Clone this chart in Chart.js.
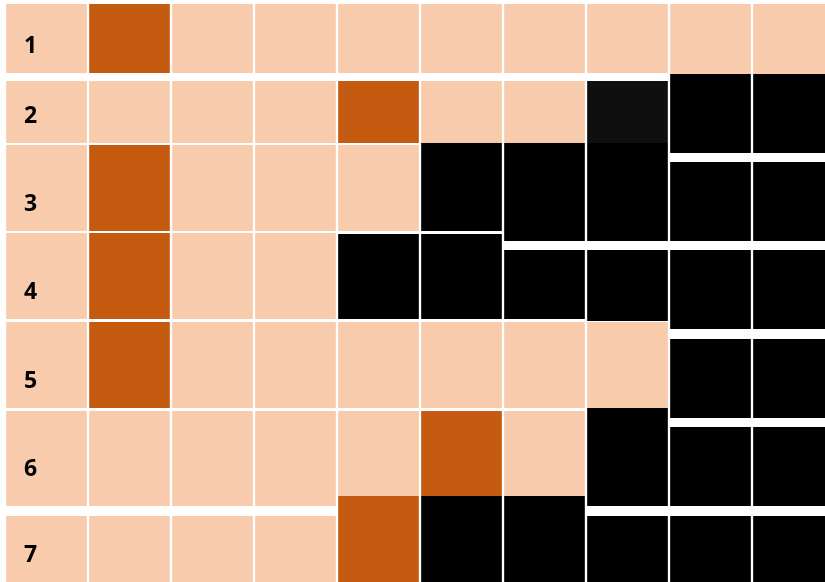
<!DOCTYPE html>
<html>
<head>
<meta charset="utf-8">
<script src="https://cdn.jsdelivr.net/npm/chart.js@4/dist/chart.umd.min.js"></script>
<style>
  html, body { margin: 0; padding: 0; background: #fff; overflow: hidden; }
  #wrap { width: 835px; height: 582px; }
</style>
</head>
<body>
<div id="wrap"><canvas id="grid"></canvas></div>
<script>
// columns: first one holds the row numbers
const columns = ['label', 'c1', 'c2', 'c3', 'c4', 'c5', 'c6', 'c7', 'c8', 'c9'];
const rowLabels = ['1', '2', '3', '4', '5', '6', '7'];

// 0 = light peach, 1 = dark orange, 2 = black, 3 = near black
const cellKinds = [
  [0, 1, 0, 0, 0, 0, 0, 0, 0, 0],
  [0, 0, 0, 0, 1, 0, 0, 3, 2, 2],
  [0, 1, 0, 0, 0, 2, 2, 2, 2, 2],
  [0, 1, 0, 0, 2, 2, 2, 2, 2, 2],
  [0, 1, 0, 0, 0, 0, 0, 0, 2, 2],
  [0, 0, 0, 0, 0, 1, 0, 2, 2, 2],
  [0, 0, 0, 0, 1, 2, 2, 2, 2, 2]
];
// vertical extent of each cell (y axis runs 0 at top to 582 at bottom)
const cellTop = [
  [4, 4, 4, 4, 4, 4, 4, 4, 4, 4],
  [81, 81, 81, 81, 81, 81, 81, 81, 74, 74],
  [145, 145, 145, 145, 145, 143, 143, 143, 162, 162],
  [233, 233, 233, 233, 234, 234, 250, 250, 250, 250],
  [322, 322, 322, 322, 322, 322, 322, 322, 339, 339],
  [411, 411, 411, 411, 411, 411, 411, 408, 427, 427],
  [516, 516, 516, 516, 496, 496, 496, 516, 516, 516]
];
const cellBottom = [
  [73, 73, 73, 73, 73, 73, 73, 73, 74, 74],
  [143, 143, 143, 143, 143, 143, 143, 143, 153, 153],
  [231, 231, 231, 231, 231, 231, 241, 241, 241, 241],
  [319, 319, 319, 319, 319, 319, 319, 321, 329, 329],
  [408, 408, 408, 408, 408, 408, 408, 408, 418, 418],
  [506, 506, 506, 506, 496, 496, 496, 506, 506, 506],
  [582, 582, 582, 582, 582, 582, 582, 582, 582, 582]
];

const palette = ['#F8CBAD', '#C55A11', '#000000', '#0F0F0F'];

const datasets = rowLabels.map((lbl, r) => ({
  label: lbl,
  data: columns.map((_, c) => [cellTop[r][c], cellBottom[r][c]]),
  backgroundColor: cellKinds[r].map(k => palette[k]),
  borderColor: '#ffffff',
  borderWidth: { left: 1.5, right: 1.5, top: 0, bottom: 0 },
  borderSkipped: false,
  grouped: false,
  barPercentage: 1,
  categoryPercentage: 1
}));

// row numbers drawn inside the first column, sitting above the row's lowest cell edge
const rowNumbers = {
  id: 'rowNumbers',
  afterDatasetsDraw(chart) {
    const { ctx, scales: { x, y } } = chart;
    const colW = x.width / columns.length;
    const left = x.getPixelForValue(0) - colW / 2;
    ctx.save();
    ctx.font = 'bold 23px "Open Sans", Lato, sans-serif';
    ctx.fillStyle = '#000';
    ctx.textAlign = 'left';
    ctx.textBaseline = 'alphabetic';
    rowLabels.forEach((lbl, r) => {
      const base = Math.min(...cellBottom[r]);
      ctx.fillText(lbl, left + 19, y.getPixelForValue(base) - 20);
    });
    ctx.restore();
  }
};

new Chart(document.getElementById('grid').getContext('2d'), {
  type: 'bar',
  data: { labels: columns, datasets },
  options: {
    responsive: true,
    maintainAspectRatio: false,
    animation: false,
    layout: { padding: { left: 5, right: 0, top: 0, bottom: 0 } },
    scales: {
      x: { display: false },
      y: { display: false, min: 0, max: 582, reverse: true }
    },
    plugins: { legend: { display: false }, tooltip: { enabled: false } }
  },
  plugins: [rowNumbers]
});
</script>
</body>
</html>
